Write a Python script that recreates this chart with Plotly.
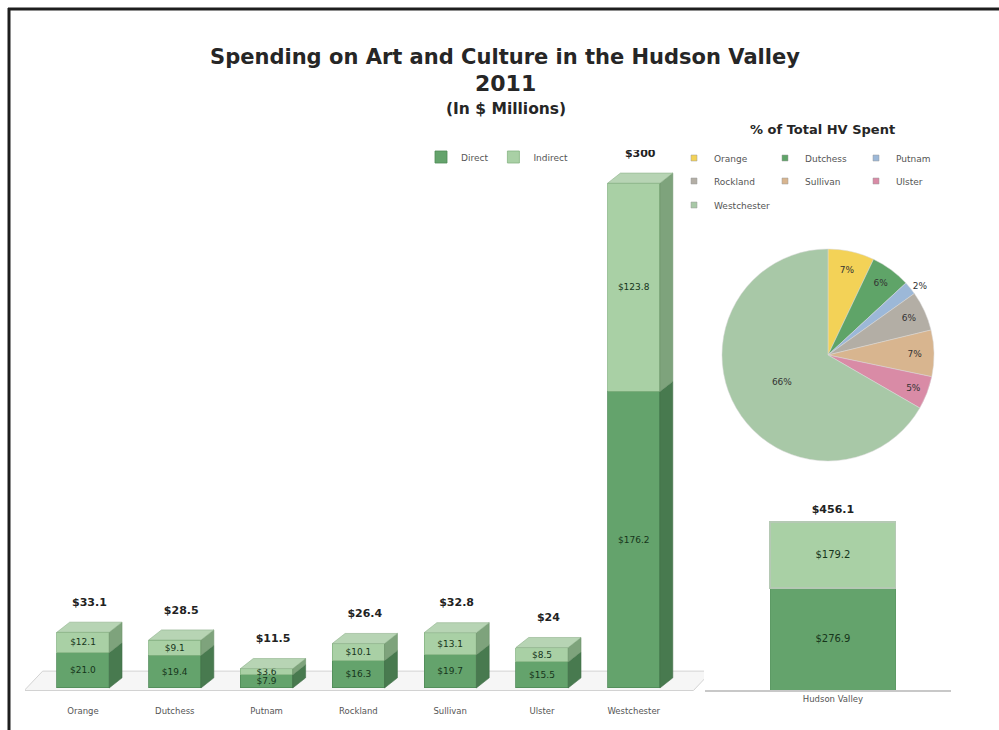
import plotly.graph_objects as go

# ---- data ($ millions, 2011) ----
counties = ["Orange", "Dutchess", "Putnam", "Rockland", "Sullivan", "Ulster", "Westchester"]
direct = [21.0, 19.4, 7.9, 16.3, 19.7, 15.5, 176.2]
indirect = [12.1, 9.1, 3.6, 10.1, 13.1, 8.5, 123.8]

region = ["Hudson Valley"]
region_direct = [276.9]
region_indirect = [179.2]

pie_labels = counties
pie_pct = [7, 6, 2, 6, 7, 5, 66]

# ---- styling ----
FONT = "DejaVu Sans, Verdana, sans-serif"
C_DIRECT = "#64a36c"
C_INDIRECT = "#a9d0a5"
C_DIRECT_SIDE = "#487a4f"
C_INDIRECT_SIDE = "#7ea37c"
C_TOP = "#b7d4b4"
PIE_COLORS = ["#f3d257", "#5fa468", "#9cb8d8", "#b3aea5", "#d8b58f", "#d98ba6", "#a8c8a7"]

W, H = 999, 730
BAR_W = 0.57      # front face width (category units)
DX = 0.14         # depth offset along x (category units)
DY = 6.0          # depth offset along y (value units)


def px_x(p):
    return p / W


def px_y(p):
    return 1 - p / H


idx = list(range(len(counties)))
totals = [round(d + i, 1) for d, i in zip(direct, indirect)]
region_totals = [round(d + i, 1) for d, i in zip(region_direct, region_indirect)]


def money(v):
    return "$" + format(v, "g")


def money1(v):
    return "$" + format(v, ".1f")


fig = go.Figure()

# front faces: stacked direct / indirect
fig.add_trace(go.Bar(
    x=idx, y=direct, name="Direct", marker=dict(color=C_DIRECT, line=dict(color="#4f8a57", width=0.8)),
    width=BAR_W, text=[money1(v) for v in direct], textposition="inside",
    insidetextanchor="middle", constraintext="none",
    textfont=dict(size=9, color="#16351b", family=FONT), legend="legend",
))
fig.add_trace(go.Bar(
    x=idx, y=indirect, name="Indirect", marker=dict(color=C_INDIRECT, line=dict(color="#86b483", width=0.8)),
    width=BAR_W, text=[money1(v) for v in indirect], textposition="inside",
    insidetextanchor="middle", constraintext="none",
    textfont=dict(size=9, color="#16351b", family=FONT), legend="legend",
))


def side_faces(lows, highs):
    xs, ys = [], []
    for i, lo, hi in zip(idx, lows, highs):
        x1 = i + BAR_W / 2
        xs += [x1, x1 + DX, x1 + DX, x1, x1, None]
        ys += [lo, lo + DY, hi + DY, hi, lo, None]
    return xs, ys


sx, sy = side_faces([0] * len(idx), direct)
fig.add_trace(go.Scatter(x=sx, y=sy, mode="lines", fill="toself", fillcolor=C_DIRECT_SIDE,
                         line=dict(color="#426e48", width=0.6), hoverinfo="skip", showlegend=False))
sx, sy = side_faces(direct, totals)
fig.add_trace(go.Scatter(x=sx, y=sy, mode="lines", fill="toself", fillcolor=C_INDIRECT_SIDE,
                         line=dict(color="#6c926a", width=0.6), hoverinfo="skip", showlegend=False))

# top faces
tx, ty = [], []
for i, t in zip(idx, totals):
    x0, x1 = i - BAR_W / 2, i + BAR_W / 2
    tx += [x0, x0 + DX, x1 + DX, x1, x0, None]
    ty += [t, t + DY, t + DY, t, t, None]
fig.add_trace(go.Scatter(x=tx, y=ty, mode="lines", fill="toself", fillcolor=C_TOP,
                         line=dict(color="#8fb18c", width=0.6), hoverinfo="skip", showlegend=False))

# total labels above the columns
fig.add_trace(go.Scatter(
    x=[i + DX / 2 for i in idx], y=[t + DY + 8 for t in totals],
    mode="text", text=[money(t) for t in totals], textposition="top center",
    textfont=dict(size=11, color="#222222", family=FONT),
    texttemplate="<b>%{text}</b>", hoverinfo="skip", showlegend=False,
))

# Hudson Valley total column
fig.add_trace(go.Bar(
    x=region, y=region_direct, xaxis="x2", yaxis="y2", width=0.51,
    marker=dict(color=C_DIRECT, line=dict(color="#5d9a65", width=1)),
    text=[money1(v) for v in region_direct], textposition="inside", insidetextanchor="middle",
    textfont=dict(size=10, color="#16351b", family=FONT), showlegend=False,
))
fig.add_trace(go.Bar(
    x=region, y=region_indirect, xaxis="x2", yaxis="y2", width=0.51,
    marker=dict(color=C_INDIRECT, line=dict(color="#b5c9b4", width=1.5)),
    text=[money1(v) for v in region_indirect], textposition="inside", insidetextanchor="middle",
    textfont=dict(size=10, color="#16351b", family=FONT), showlegend=False,
))
fig.add_trace(go.Scatter(
    x=region, y=[t + 16 for t in region_totals], xaxis="x2", yaxis="y2",
    mode="text", text=[money(t) for t in region_totals], textposition="top center",
    texttemplate="<b>%{text}</b>",
    textfont=dict(size=11, color="#222222", family=FONT), hoverinfo="skip", showlegend=False,
))

# share of the regional total
fig.add_trace(go.Pie(
    labels=pie_labels, values=pie_pct, text=pie_pct, texttemplate="%{text}%",
    sort=False, direction="clockwise", rotation=0,
    marker=dict(colors=PIE_COLORS, line=dict(color="#d9d9d9", width=0.5)),
    textposition=["inside", "inside", "outside", "inside", "inside", "inside", "inside"],
    insidetextorientation="horizontal",
    textfont=dict(size=9, color="#333333", family=FONT),
    domain=dict(x=[px_x(722), px_x(934)], y=[px_y(461), px_y(249)]),
    showlegend=False, hoverinfo="label+text",
))

# pie legend, three entries per row
for row, names in enumerate([pie_labels[0:3], pie_labels[3:6], pie_labels[6:7]]):
    for name in names:
        k = pie_labels.index(name)
        fig.add_trace(go.Scatter(
            x=[None], y=[None], mode="markers", name=name,
            marker=dict(symbol="square", size=6, color=PIE_COLORS[k], line=dict(color="#999", width=0.5)),
            legend=f"legend{row + 2}",
        ))

legend_common = dict(orientation="h", xanchor="left", yanchor="middle", bgcolor="rgba(0,0,0,0)",
                     font=dict(size=9, color="#555555", family=FONT), entrywidthmode="pixels",
                     itemwidth=30, tracegroupgap=0, traceorder="normal")

# floor plane under the 3-D columns
fx0, fx1 = -0.64, len(counties) - 0.35
floor_path = (f"M {fx0},-1.5 L {fx1},-1.5 L {fx1 + 0.2},10 L {fx0 + 0.2},10 Z")

title_font = dict(size=21, color="#262626", family=FONT)

fig.update_layout(
    width=W, height=H,
    margin=dict(l=0, r=0, t=0, b=0, autoexpand=False),
    paper_bgcolor="white", plot_bgcolor="rgba(0,0,0,0)",
    barmode="stack", bargap=0.3,
    font=dict(family=FONT, color="#222222"),
    title=dict(text="<b>Spending on Art and Culture in the Hudson Valley</b>",
               x=px_x(505), xanchor="center", y=px_y(57), yanchor="middle", font=title_font),
    xaxis=dict(domain=[px_x(25), px_x(704)], range=[-0.632, 6.765],
               tickvals=idx, ticktext=counties, showgrid=False, zeroline=False,
               showline=False, ticks="", tickfont=dict(size=8.5, color="#555555"),
               ticklabelstandoff=10),
    yaxis=dict(domain=[px_y(694.7), px_y(150)], range=[-4, 319.7], visible=False),
    xaxis2=dict(domain=[px_x(705), px_x(951)], range=[-0.52, 0.48], anchor="y2",
                showgrid=False, zeroline=False, showline=True, linecolor="#c8c8c8", linewidth=2,
                ticks="", tickfont=dict(size=8.5, color="#555555")),
    yaxis2=dict(domain=[px_y(690), px_y(470)], range=[0, 597], anchor="x2", visible=False),
    legend=dict(x=px_x(421), y=px_y(157), entrywidth=0, **legend_common),
    legend2=dict(x=px_x(674), y=px_y(158), entrywidth=46, **legend_common),
    legend3=dict(x=px_x(674), y=px_y(181), entrywidth=46, **legend_common),
    legend4=dict(x=px_x(674), y=px_y(205), entrywidth=0, **legend_common),
    annotations=[
        dict(text="<b>2011</b>", x=px_x(505), y=px_y(84), xref="paper", yref="paper",
             xanchor="center", yanchor="middle", showarrow=False, font=dict(size=22, color="#262626")),
        dict(text="<b>(In $ Millions)</b>", x=px_x(506), y=px_y(109), xref="paper", yref="paper",
             xanchor="center", yanchor="middle", showarrow=False, font=dict(size=15.5, color="#262626")),
        dict(text="<b>% of Total HV Spent</b>", x=px_x(822), y=px_y(129), xref="paper", yref="paper",
             xanchor="center", yanchor="middle", showarrow=False, font=dict(size=13, color="#262626")),
    ],
    shapes=[
        dict(type="path", xref="x", yref="y", path=floor_path, layer="below",
             fillcolor="#f6f6f6", line=dict(color="#d2d2d2", width=1)),
        dict(type="line", xref="paper", yref="paper", x0=px_x(8), x1=1, y0=px_y(9), y1=px_y(9),
             line=dict(color="#1e1e1e", width=3)),
        dict(type="line", xref="paper", yref="paper", x0=px_x(9), x1=px_x(9), y0=px_y(8), y1=0,
             line=dict(color="#1e1e1e", width=3)),
    ],
)

fig.write_html("out.html")
